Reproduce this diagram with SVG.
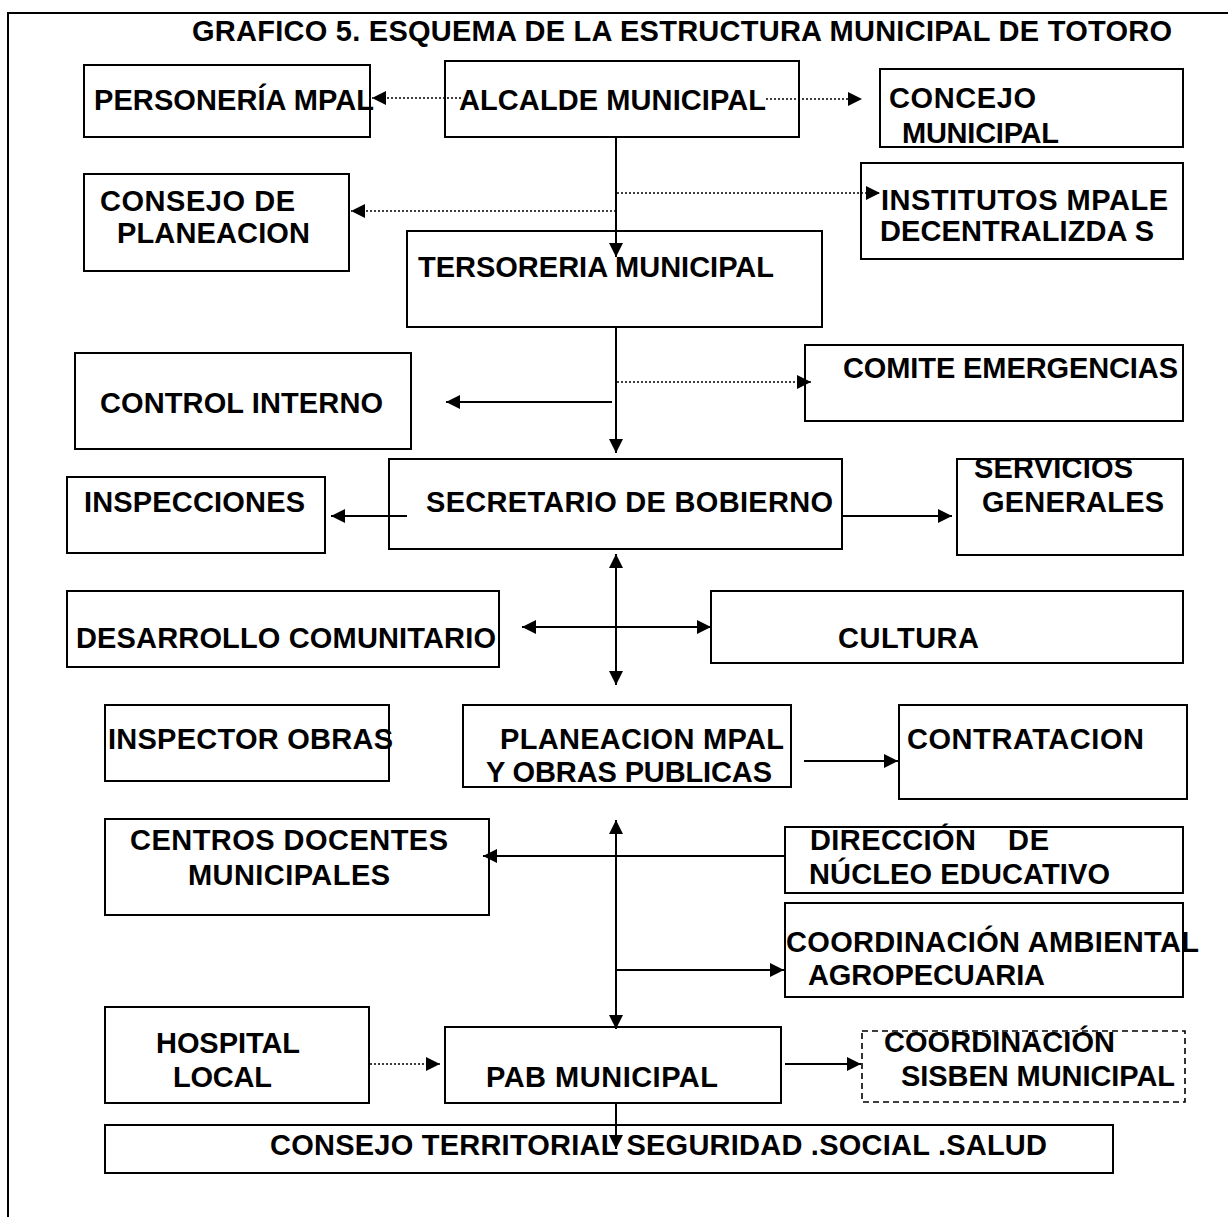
<svg xmlns="http://www.w3.org/2000/svg" width="1228" height="1217" viewBox="0 0 1228 1217">
<style>
.box{fill:none;stroke:#000;stroke-width:2}
.dsh{stroke-dasharray:6 4;stroke-width:1.6}
.t{font-family:"Liberation Sans",Arial,sans-serif;font-weight:bold;font-size:29px;fill:#000}
.ln{stroke:#000;stroke-width:2;fill:none}
.dot{stroke:#000;stroke-width:1.6;stroke-dasharray:2 2;fill:none}
</style>
<defs>
<marker id="ah" viewBox="0 0 14 14" refX="14" refY="7" markerWidth="14" markerHeight="14" markerUnits="userSpaceOnUse" orient="auto-start-reverse">
<path d="M0,0 L14,7 L0,14 z" fill="#000"/>
</marker>
</defs>
<rect x="0" y="0" width="1228" height="1217" fill="#fff"/>
<path d="M8,1217 V13 H1228" class="ln"/>
<text class="t" x="192" y="41" textLength="980">GRAFICO 5. ESQUEMA DE LA  ESTRUCTURA MUNICIPAL DE TOTORO</text>

<g id="connectors">
<line class="dot" x1="461" y1="98" x2="372" y2="98" marker-end="url(#ah)"/>
<line class="dot" x1="766" y1="99" x2="862" y2="99" marker-end="url(#ah)"/>
<line class="ln" x1="616" y1="137" x2="616" y2="257" marker-end="url(#ah)"/>
<line class="dot" x1="617" y1="193" x2="880" y2="193" marker-end="url(#ah)"/>
<line class="dot" x1="616" y1="211" x2="351" y2="211" marker-end="url(#ah)"/>
<line class="ln" x1="616" y1="327" x2="616" y2="453" marker-end="url(#ah)"/>
<line class="dot" x1="617" y1="382" x2="811" y2="382" marker-end="url(#ah)"/>
<line class="ln" x1="612" y1="402" x2="446" y2="402" marker-end="url(#ah)"/>
<line class="ln" x1="407" y1="516" x2="331" y2="516" marker-end="url(#ah)"/>
<line class="ln" x1="842" y1="516" x2="952" y2="516" marker-end="url(#ah)"/>
<line class="ln" x1="616" y1="554" x2="616" y2="685" marker-start="url(#ah)" marker-end="url(#ah)"/>
<line class="ln" x1="522" y1="627" x2="711" y2="627" marker-start="url(#ah)" marker-end="url(#ah)"/>
<line class="ln" x1="804" y1="761" x2="898" y2="761" marker-end="url(#ah)"/>
<line class="ln" x1="616" y1="820" x2="616" y2="1029" marker-start="url(#ah)" marker-end="url(#ah)"/>
<line class="ln" x1="786" y1="856" x2="483" y2="856" marker-end="url(#ah)"/>
<line class="ln" x1="616" y1="970" x2="784" y2="970" marker-end="url(#ah)"/>
<line class="dot" x1="370" y1="1064" x2="440" y2="1064" marker-end="url(#ah)"/>
<line class="ln" x1="785" y1="1064" x2="861" y2="1064" marker-end="url(#ah)"/>
<line class="ln" x1="616" y1="1102" x2="616" y2="1149" marker-end="url(#ah)"/>
</g>

<g id="personeria"><rect class="box" x="84" y="65" width="286" height="72"/><text class="t" x="94" y="110" textLength="280">PERSONERÍA MPAL</text></g>
<g id="alcalde"><rect class="box" x="445" y="61" width="354" height="76"/><text class="t" x="459" y="110" textLength="307">ALCALDE MUNICIPAL</text></g>
<g id="concejo"><rect class="box" x="880" y="69" width="303" height="78"/><text class="t" x="889" y="108" textLength="147">CONCEJO</text><text class="t" x="902" y="143" textLength="157">MUNICIPAL</text></g>
<g id="consejo-planeacion"><rect class="box" x="84" y="174" width="265" height="97"/><text class="t" x="100" y="211" textLength="195">CONSEJO DE</text><text class="t" x="117" y="243" textLength="193">PLANEACION</text></g>
<g id="institutos"><rect class="box" x="861" y="163" width="322" height="96"/><text class="t" x="881" y="210" textLength="287">INSTITUTOS MPALE</text><text class="t" x="880" y="241" textLength="274">DECENTRALIZDA S</text></g>
<g id="tesoreria"><rect class="box" x="407" y="231" width="415" height="96"/><text class="t" x="418" y="277" textLength="356">TERSORERIA MUNICIPAL</text></g>
<g id="control-interno"><rect class="box" x="75" y="353" width="336" height="96"/><text class="t" x="100" y="413" textLength="283">CONTROL INTERNO</text></g>
<g id="comite"><rect class="box" x="805" y="345" width="378" height="76"/><text class="t" x="843" y="378" textLength="335">COMITE EMERGENCIAS</text></g>
<g id="inspecciones"><rect class="box" x="67" y="477" width="258" height="76"/><text class="t" x="84" y="512" textLength="221">INSPECCIONES</text></g>
<g id="secretario"><rect class="box" x="389" y="459" width="453" height="90"/><text class="t" x="426" y="512" textLength="407">SECRETARIO DE BOBIERNO</text></g>
<g id="servicios"><rect class="box" x="957" y="459" width="226" height="96"/><text class="t" x="974" y="478" textLength="159">SERVICIOS</text><text class="t" x="982" y="512" textLength="182">GENERALES</text></g>
<g id="desarrollo"><rect class="box" x="67" y="591" width="432" height="76"/><text class="t" x="76" y="648" textLength="420">DESARROLLO COMUNITARIO</text></g>
<g id="cultura"><rect class="box" x="711" y="591" width="472" height="72"/><text class="t" x="838" y="648" textLength="141">CULTURA</text></g>
<g id="inspector-obras"><rect class="box" x="105" y="705" width="284" height="76"/><text class="t" x="108" y="749" textLength="285">INSPECTOR OBRAS</text></g>
<g id="planeacion-mpal"><rect class="box" x="463" y="705" width="328" height="82"/><text class="t" x="500" y="749" textLength="284">PLANEACION MPAL</text><text class="t" x="486" y="782" textLength="286">Y OBRAS PUBLICAS</text></g>
<g id="contratacion"><rect class="box" x="899" y="705" width="288" height="94"/><text class="t" x="907" y="749" textLength="237">CONTRATACION</text></g>
<g id="centros-docentes"><rect class="box" x="105" y="819" width="384" height="96"/><text class="t" x="130" y="850" textLength="318">CENTROS DOCENTES</text><text class="t" x="188" y="885" textLength="202">MUNICIPALES</text></g>
<g id="direccion-nucleo"><rect class="box" x="785" y="827" width="398" height="66"/><text class="t" y="850"><tspan x="810" textLength="166">DIRECCIÓN</tspan><tspan x="1008" textLength="41">DE</tspan></text><text class="t" x="809" y="884" textLength="301">NÚCLEO EDUCATIVO</text></g>
<g id="coordinacion-ambiental"><rect class="box" x="785" y="903" width="398" height="94"/><text class="t" x="786" y="952" textLength="413">COORDINACIÓN AMBIENTAL</text><text class="t" x="808" y="985" textLength="237">AGROPECUARIA</text></g>
<g id="hospital"><rect class="box" x="105" y="1007" width="264" height="96"/><text class="t" x="156" y="1053" textLength="144">HOSPITAL</text><text class="t" x="173" y="1087" textLength="99">LOCAL</text></g>
<g id="pab"><rect class="box" x="445" y="1027" width="336" height="76"/><text class="t" x="486" y="1087" textLength="232">PAB MUNICIPAL</text></g>
<g id="sisben"><rect class="box dsh" x="862" y="1031" width="323" height="71"/><text class="t" x="884" y="1052" textLength="231">COORDINACIÓN</text><text class="t" x="901" y="1086" textLength="274">SISBEN MUNICIPAL</text></g>
<g id="consejo-territorial"><rect class="box" x="105" y="1125" width="1008" height="48"/><text class="t" x="270" y="1155" textLength="777">CONSEJO TERRITORIAL SEGURIDAD .SOCIAL .SALUD</text></g>
</svg>
